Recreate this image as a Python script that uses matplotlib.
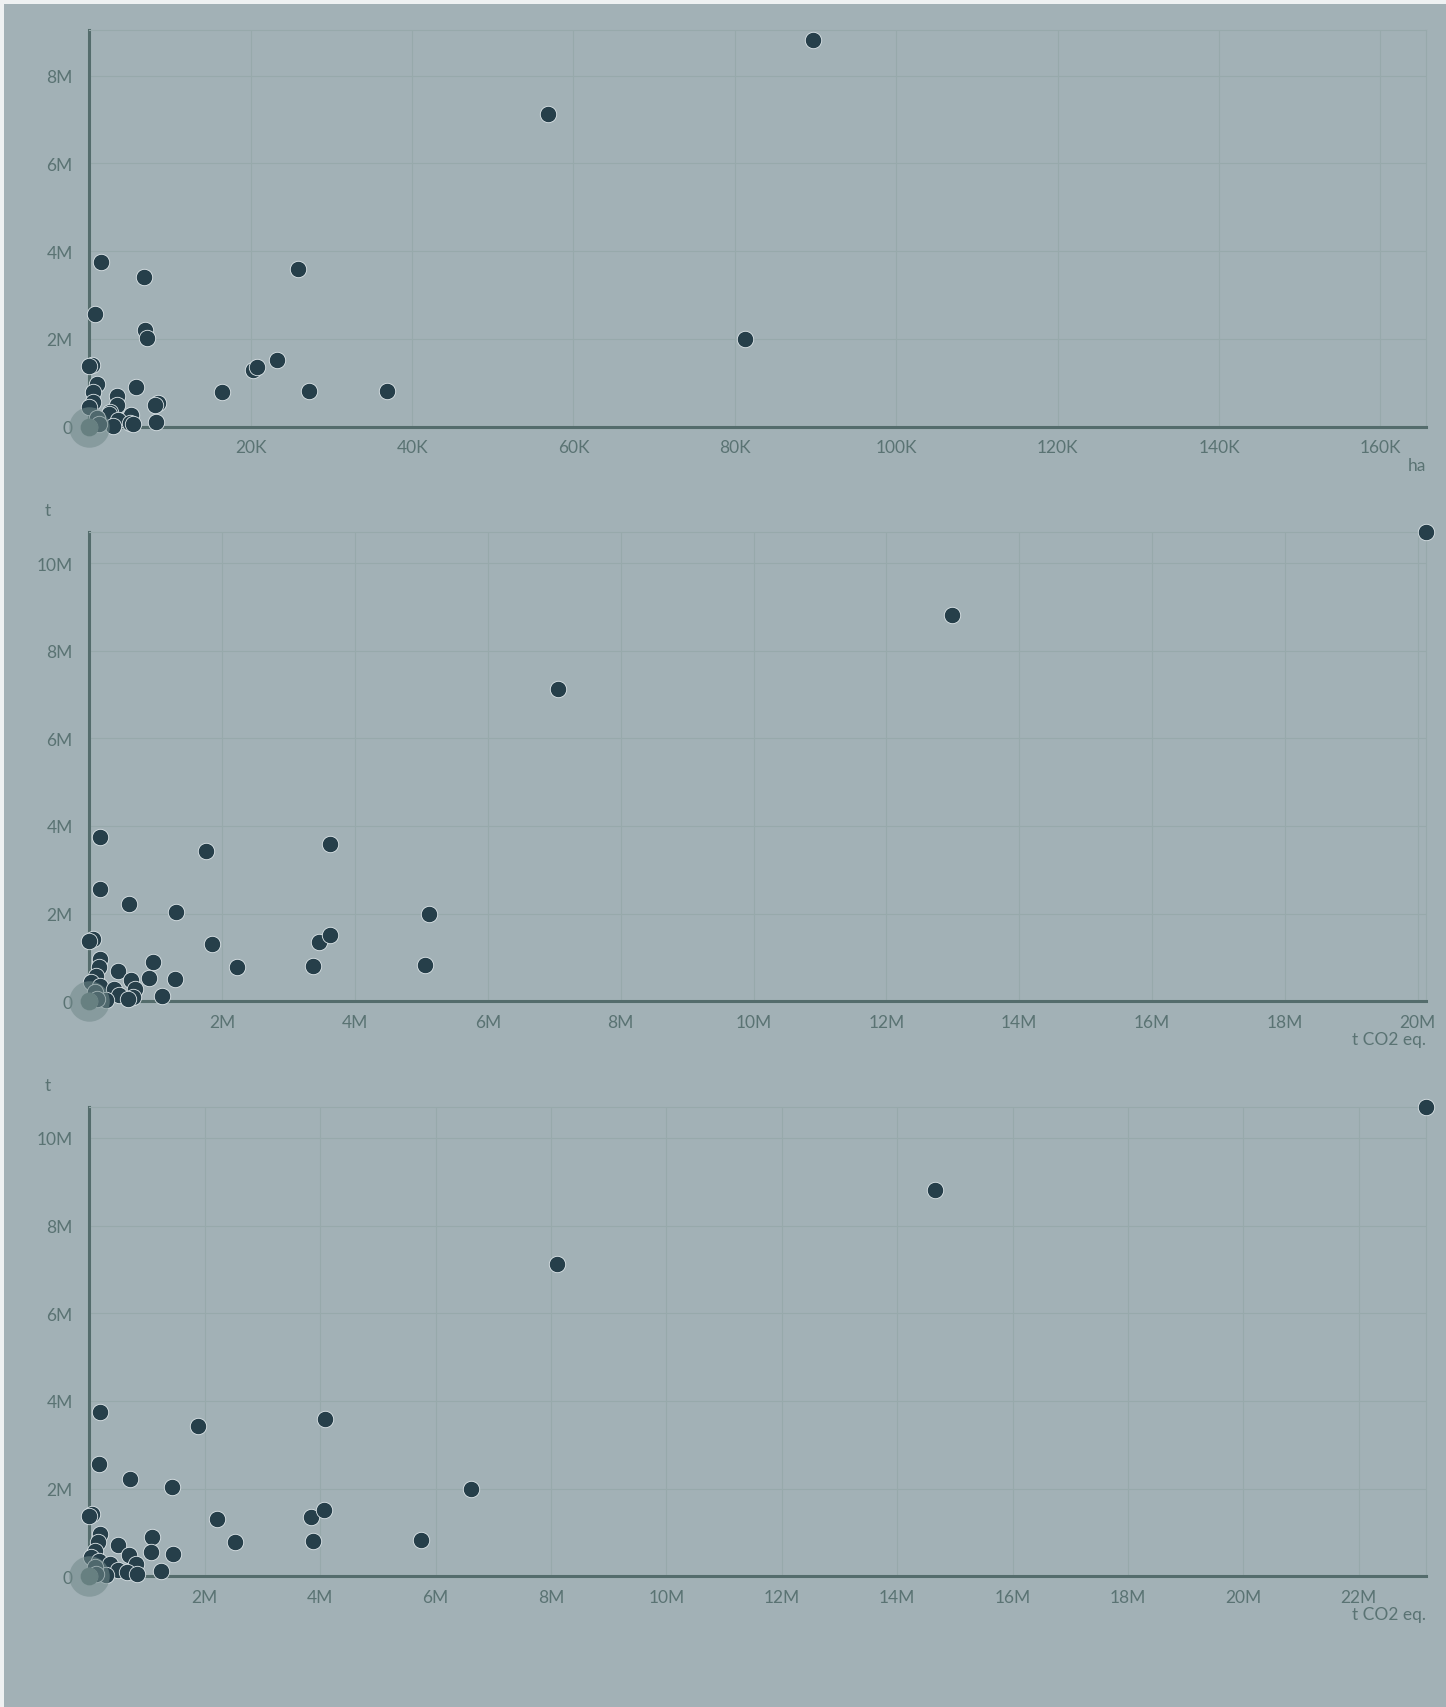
import numpy as np
import matplotlib
matplotlib.use("Agg")
import matplotlib.pyplot as plt
from matplotlib.patches import Rectangle
from matplotlib.ticker import FuncFormatter

# valeurs (t, ha, t CO2 eq.)
tonnes = [10.70, 8.82, 7.13, 3.75, 3.42, 3.59, 2.56, 2.21, 2.03, 1.99,
          1.41, 1.38, 1.30, 1.36, 1.52, 0.78, 0.81, 0.82, 0.89, 0.70,
          0.54, 0.50, 0.11, 0.96, 0.78, 0.57, 0.44, 0.49, 0.34, 0.27,
          0.28, 0.15, 0.09, 0.06, 0.02, 0.20, 0.05, 0.0]
hectares = [np.nan, 89.7, 56.8, 1.5, 6.8, 25.9, 0.7, 6.9, 7.2, 81.2,
            0.3, 0.0, 20.3, 20.8, 23.2, 16.5, 27.2, 36.9, 5.8, 3.4,
            8.5, 8.1, 8.2, 1.0, 0.5, 0.5, 0.0, 3.4, 2.5, 5.2,
            2.4, 3.6, 5.0, 5.4, 2.9, 0.9, 1.2, 0.0]
co2_a = [20.13, 12.99, 7.06, 0.16, 1.75, 3.62, 0.16, 0.60, 1.30, 5.12,
         0.05, 0.0, 1.84, 3.45, 3.63, 2.22, 3.36, 5.06, 0.96, 0.43,
         0.90, 1.29, 1.10, 0.16, 0.14, 0.10, 0.02, 0.63, 0.16, 0.68,
         0.37, 0.45, 0.66, 0.58, 0.25, 0.08, 0.12, 0.0]
co2_b = [23.17, 14.65, 8.11, 0.19, 1.88, 4.09, 0.17, 0.71, 1.43, 6.61,
         0.05, 0.0, 2.21, 3.84, 4.07, 2.52, 3.87, 5.74, 1.08, 0.50,
         1.07, 1.45, 1.25, 0.19, 0.15, 0.09, 0.02, 0.69, 0.17, 0.81,
         0.36, 0.50, 0.66, 0.83, 0.29, 0.10, 0.12, 0.0]

y = np.array(tonnes) * 1e6
panels = [
    (np.array(hectares) * 1e3, 165700, 9.05e6, np.arange(20000, 160001, 20000), np.arange(0, 8.1e6, 2e6), "ha", None),
    (np.array(co2_a) * 1e6, 20.13e6, 10.70e6, np.arange(2e6, 20.1e6, 2e6), np.arange(0, 10.1e6, 2e6), "t CO2 eq.", "t"),
    (np.array(co2_b) * 1e6, 23.17e6, 10.70e6, np.arange(2e6, 22.1e6, 2e6), np.arange(0, 10.1e6, 2e6), "t CO2 eq.", "t"),
]

bg = "#a2b1b6"
dot = "#263f4a"
axis_c = "#546c6c"
grid_c = "#97a9ab"
txt_c = "#5a7373"
plt.rcParams['font.family'] = ['Lato', 'DejaVu Sans']


def fmt(v, pos):
    if v == 0:
        return "0"
    if abs(v) >= 1e6:
        return "%dM" % round(v / 1e6)
    return "%dK" % round(v / 1e3)


fig = plt.figure(figsize=(14.46, 17.08), dpi=100)
fig.patch.set_facecolor("#eef1f2")
card = Rectangle((4 / 1446, 0), 1, 1 - 5 / 1708, transform=fig.transFigure,
                 facecolor=bg, edgecolor="none", zorder=-10)
fig.add_artist(card)

boxes = [(0.7497, 0.2323), (0.4132, 0.2745), (0.0766, 0.2746)]
for (x, xmax, ymax, xt, yt, xlab, ylab), (b, h) in zip(panels, boxes):
    ax = fig.add_axes([0.0618, b, 0.9246, h])
    ax.set_facecolor("none")
    ax.set_xlim(0, xmax)
    ax.set_ylim(0, ymax)
    ax.set_xticks(xt)
    ax.set_yticks(yt)
    ax.xaxis.set_major_formatter(FuncFormatter(fmt))
    ax.yaxis.set_major_formatter(FuncFormatter(fmt))
    ax.tick_params(length=0, labelsize=12.5, labelcolor=txt_c)
    ax.tick_params(axis='y', pad=12)
    ax.tick_params(axis='x', pad=9)
    ax.grid(True, color=grid_c, linewidth=0.8)
    ax.set_axisbelow(True)
    for s in ["left", "bottom"]:
        ax.spines[s].set_color(axis_c)
        ax.spines[s].set_linewidth(2.2)
    for s in ["top", "right"]:
        ax.spines[s].set_color(grid_c)
        ax.spines[s].set_linewidth(0.8)

    ax.scatter(x, y, s=140, color=dot, edgecolors="#dfe7ea", linewidths=0.6,
               zorder=3, clip_on=False)
    # point survolé à l'origine
    ax.scatter([0], [0], s=140, color="#5b7676", zorder=4, clip_on=False)
    ax.scatter([0], [0], s=850, color="#728a8b", alpha=0.55, linewidths=0,
               zorder=5, clip_on=False)

    ax.text(1.0, -38 / (h * 1708), xlab, transform=ax.transAxes, ha="right", va="center",
            fontsize=12.5, color=txt_c)
    if ylab:
        ax.text(-42 / (0.9246 * 1446), 1 + 22 / (h * 1708), ylab, transform=ax.transAxes,
                ha="center", va="center", fontsize=12.5, color=txt_c)

fig.savefig("out.png", dpi=100, facecolor=fig.get_facecolor())
